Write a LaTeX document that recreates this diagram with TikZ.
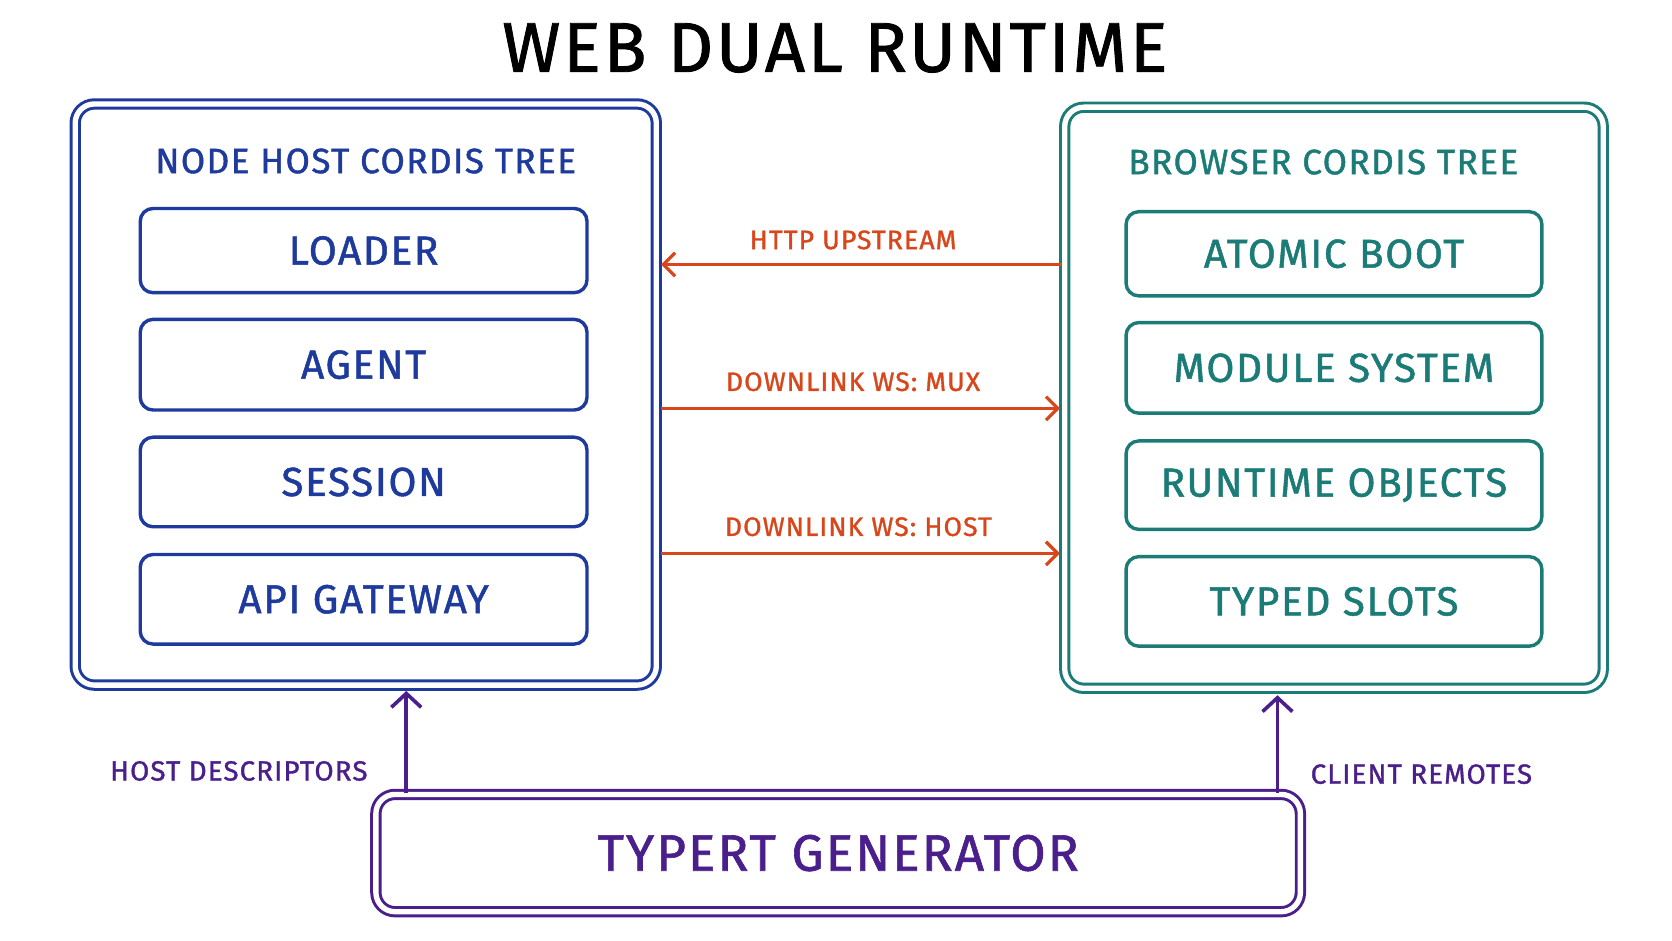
\documentclass[tikz,border=0pt]{standalone}
\usepackage{fontspec}
\setmainfont{Fira Sans}[LetterSpace=4,FakeBold=1.2]
\usetikzlibrary{arrows.meta}
\definecolor{cblue}{HTML}{1E3A9C}
\definecolor{cteal}{HTML}{1B7B77}
\definecolor{corange}{HTML}{D8461B}
\definecolor{cpurple}{HTML}{4A1F8C}
\begin{document}
\begin{tikzpicture}[x=1pt,y=-1pt,
  outer/.style={draw=#1,double=white,double distance=5pt,line width=2.8pt,rounded corners=18pt},
  inner/.style={draw=#1,line width=3.2pt,rounded corners=12pt,text=#1,font=\fontsize{38}{40}\selectfont},
  ttl/.style={text=#1,font=\fontsize{33}{35}\selectfont},
  arr/.style={draw=corange,line width=3pt,-{Straight Barb[length=11pt,width=22pt]}},
  alab/.style={text=corange,font=\fontsize{25}{27}\selectfont},
  up/.style={draw=cpurple,line width=3.4pt,-{Straight Barb[length=13pt,width=28pt]}},
  plab/.style={text=cpurple,font=\fontsize{26}{28}\selectfont}]
\useasboundingbox (0,0) rectangle (1568,882);
\node (title) at (783,45) {\fontsize{66}{70}\selectfont WEB DUAL RUNTIME};
% left
\node[outer=cblue,minimum width=545pt,minimum height=545pt] (L) at (343,370) {};
\node[ttl=cblue] (Lt) at (343,151) {NODE HOST CORDIS TREE};
\node[inner=cblue,minimum width=419pt,minimum height=79pt] (l1) at (341,235) {LOADER};
\node[inner=cblue,minimum width=419pt,minimum height=85pt] (l2) at (341,342) {AGENT};
\node[inner=cblue,minimum width=419pt,minimum height=84pt] (l3) at (341,452) {SESSION};
\node[inner=cblue,minimum width=419pt,minimum height=84pt] (l4) at (341,562) {API GATEWAY};
% right
\node[outer=cteal,minimum width=505pt,minimum height=545pt] (R) at (1251,373) {};
\node[ttl=cteal] (Rt) at (1241,152) {BROWSER CORDIS TREE};
\node[inner=cteal,minimum width=390pt,minimum height=79pt] (r1) at (1251,238) {ATOMIC BOOT};
\node[inner=cteal,minimum width=390pt,minimum height=85pt] (r2) at (1251,345) {MODULE SYSTEM};
\node[inner=cteal,minimum width=390pt,minimum height=83pt] (r3) at (1251,455) {RUNTIME OBJECTS};
\node[inner=cteal,minimum width=390pt,minimum height=84pt] (r4) at (1251,564) {TYPED SLOTS};
% bottom
\node[outer=cpurple,minimum width=867pt,minimum height=110pt,inner sep=0pt,text=cpurple,font=\fontsize{48}{52}\selectfont] (B) at (786,800) {TYPERT GENERATOR};
% arrows
\coordinate (a1) at (996,248); \coordinate (a1e) at (620,248);
\draw[arr] (a1) -- (a1e);
\node[alab] (t1) at (800,225) {HTTP UPSTREAM};
\coordinate (a2) at (620,383); \coordinate (a2e) at (994,383);
\draw[arr] (a2) -- (a2e);
\node[alab] (t2) at (800,358) {DOWNLINK WS: MUX};
\coordinate (a3) at (620,519); \coordinate (a3e) at (994,519);
\draw[arr] (a3) -- (a3e);
\node[alab] (t3) at (805,494) {DOWNLINK WS: HOST};
\draw[up] (B.north -| 381,0) -- (381,648);
\draw[up] (B.north -| 1198,0) -- (1198,652);
\node[plab] (p1) at (224,723) {HOST DESCRIPTORS};
\node[plab] (p2) at (1333,726) {CLIENT REMOTES};
\end{tikzpicture}
\end{document}
